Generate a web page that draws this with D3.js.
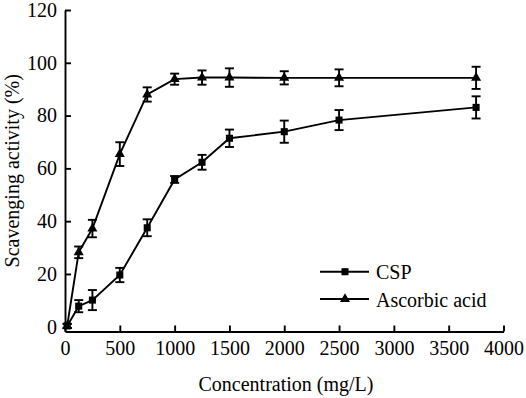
<!DOCTYPE html>
<html>
<head>
<meta charset="utf-8">
<script src="https://cdn.jsdelivr.net/npm/d3@7"></script>
<style>
  body { margin: 0; background: #fff; }
  svg { display: block; }
  svg text { font-family: "Liberation Serif", "DejaVu Serif", serif; }
</style>
</head>
<body>
<svg id="chart"></svg>
<script>
// concentrations (mg/L)
const cspConc = [20, 125, 250, 500, 750, 1000, 1250, 1500, 2000, 2500, 3750];
const cspValues = [0.3, 7.8, 10.1, 19.6, 37.5, 55.8, 62.3, 71.4, 73.9, 78.3, 83.1];
const cspErr = [0.8, 2.3, 3.8, 2.7, 3.2, 1.3, 2.8, 3.3, 4.2, 3.8, 4.2];

const ascConc = [20, 125, 250, 500, 750, 1000, 1250, 1500, 2000, 2500, 3750];
const ascValues = [0.3, 28.2, 37.2, 65.4, 88.0, 93.8, 94.4, 94.4, 94.3, 94.3, 94.3];
const ascErr = [0.8, 2.2, 3.3, 4.5, 2.7, 2.1, 2.7, 3.5, 2.5, 3.2, 4.2];

const xTicks = [0, 500, 1000, 1500, 2000, 2500, 3000, 3500, 4000];
const yTicks = [0, 20, 40, 60, 80, 100, 120];

const width = 526;
const height = 398;
const sw = 1.9;

const svg = d3.select("#chart").attr("width", width).attr("height", height);

const x = d3.scaleLinear().domain([0, 4000]).range([65, 503.5]);
const y = d3.scaleLinear().domain([-1.8, 120]).range([331.5, 10]);

// axes
const xAxisGroup = svg
  .append("g")
  .attr("transform", `translate(0,${y(-1.8)})`)
  .call(d3.axisBottom(x).tickValues(xTicks).tickSizeInner(-6).tickSizeOuter(0).tickPadding(9).tickFormat(d3.format("d")))
  .call((g) => g.select(".domain").attr("stroke-width", sw))
  .call((g) => g.selectAll(".tick line").attr("stroke-width", sw))
  .call((g) => g.selectAll("text").attr("font-size", 20).attr("fill", "#000"));

const yAxisGroup = svg
  .append("g")
  .attr("transform", `translate(${x(0)},0)`)
  .call(d3.axisLeft(y).tickValues(yTicks).tickSizeInner(-6).tickSizeOuter(0).tickPadding(8))
  .call((g) => g.select(".domain").attr("stroke-width", sw))
  .call((g) => g.selectAll(".tick line").attr("stroke-width", sw))
  .call((g) => g.selectAll("text").attr("font-size", 20).attr("fill", "#000"));

// axis titles
svg
  .append("text")
  .attr("x", 286)
  .attr("y", 391)
  .attr("text-anchor", "middle")
  .attr("font-size", 20)
  .text("Concentration (mg/L)");

svg
  .append("text")
  .attr("transform", `translate(19,${(10 + 331.5) / 2}) rotate(-90)`)
  .attr("text-anchor", "middle")
  .attr("font-size", 20)
  .text("Scavenging activity (%)");

const series = [
  { name: "CSP", conc: cspConc, vals: cspValues, err: cspErr, shape: d3.symbolSquare, size: 50 },
  { name: "Ascorbic acid", conc: ascConc, vals: ascValues, err: ascErr, shape: d3.symbolTriangle, size: 44 },
];

const line = d3
  .line()
  .x((d) => x(d.c))
  .y((d) => y(d.v));

series.forEach((s) => {
  const pts = s.conc.map((c, i) => ({ c: c, v: s.vals[i], e: s.err[i] }));

  svg
    .append("path")
    .datum(pts)
    .attr("d", line)
    .attr("fill", "none")
    .attr("stroke", "#000")
    .attr("stroke-width", sw);

  // error bars
  const eb = svg.append("g").attr("stroke", "#000").attr("stroke-width", sw);
  eb.selectAll("line.v")
    .data(pts)
    .join("line")
    .attr("class", "v")
    .attr("x1", (d) => x(d.c))
    .attr("x2", (d) => x(d.c))
    .attr("y1", (d) => y(d.v - d.e))
    .attr("y2", (d) => y(d.v + d.e));
  eb.selectAll("line.top")
    .data(pts)
    .join("line")
    .attr("class", "top")
    .attr("x1", (d) => x(d.c) - 4.5)
    .attr("x2", (d) => x(d.c) + 4.5)
    .attr("y1", (d) => y(d.v + d.e))
    .attr("y2", (d) => y(d.v + d.e));
  eb.selectAll("line.bot")
    .data(pts)
    .join("line")
    .attr("class", "bot")
    .attr("x1", (d) => x(d.c) - 4.5)
    .attr("x2", (d) => x(d.c) + 4.5)
    .attr("y1", (d) => y(d.v - d.e))
    .attr("y2", (d) => y(d.v - d.e));

  svg
    .append("g")
    .selectAll("path")
    .data(pts)
    .join("path")
    .attr("transform", (d) => `translate(${x(d.c)},${y(d.v)})`)
    .attr("d", d3.symbol().type(s.shape).size(s.size))
    .attr("fill", "#000");
});

// legend
const legend = svg.append("g");
series.forEach((s, i) => {
  const ly = 271.7 + i * 27.3;
  legend
    .append("line")
    .attr("x1", 320)
    .attr("x2", 369)
    .attr("y1", ly)
    .attr("y2", ly)
    .attr("stroke", "#000")
    .attr("stroke-width", sw);
  legend
    .append("path")
    .attr("transform", `translate(345,${ly})`)
    .attr("d", d3.symbol().type(s.shape).size(s.size))
    .attr("fill", "#000");
  legend
    .append("text")
    .attr("x", 376)
    .attr("y", ly + 7.5)
    .attr("font-size", 20)
    .text(s.name);
});
</script>
</body>
</html>
